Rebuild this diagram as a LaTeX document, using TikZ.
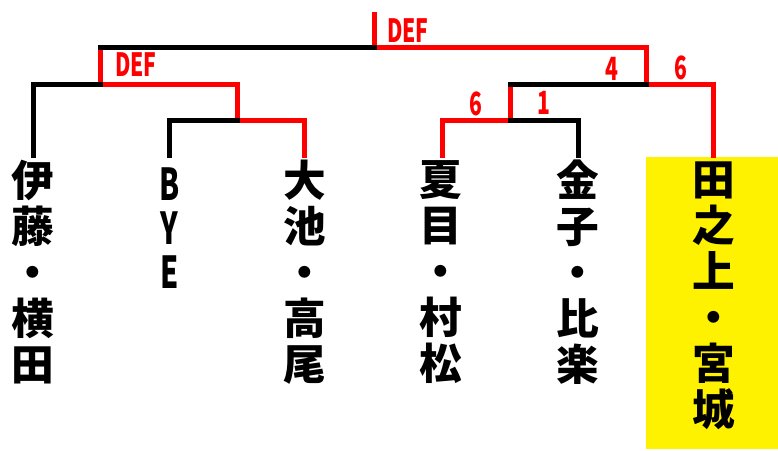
\documentclass[tikz,border=0pt]{standalone}
\usepackage{fontspec}
\usetikzlibrary{positioning}
\newfontfamily\jpfont{Noto Sans CJK JP}
\newfontfamily\narrowfont[FakeStretch=0.66]{Noto Sans CJK JP}

\begin{document}
\begin{tikzpicture}[x=0.75pt,y=-0.75pt,
                    line width=3.75pt,line cap=rect,line join=miter,
                    name node/.style={inner sep=0pt,align=center,font=\jpfont\bfseries\fontsize{32}{34.5}\selectfont},
                    bye node/.style={inner sep=0pt,align=center,font=\narrowfont\bfseries\fontsize{33}{33}\selectfont},
                    score node/.style={text=red,inner sep=0pt,font=\narrowfont\bfseries\fontsize{24}{24}\selectfont},
                    win/.style={draw=red},lose/.style={draw=black}
                   ]
  \useasboundingbox (0,0) rectangle (778,450);
  \fill[yellow] (646,157) rectangle (778,449);

  % tips of the bracket
  \coordinate (t1) at (33,155);
  \coordinate (t2) at (169.5,155);
  \coordinate (t3) at (304.5,155);
  \coordinate (t4) at (442,155);
  \coordinate (t5) at (578,155);
  \coordinate (t6) at (713,155);
  % joints
  \coordinate (m1) at (237,120.5);
  \coordinate (m2) at (510,120.5);
  \coordinate (s1) at (100,84.5);
  \coordinate (s2) at (646,84.5);
  \coordinate (f) at (374.5,47.5);
  \coordinate (champ) at (374.5,14);

  % players
  \node[name node] (ito) at (33,272.5) {伊\\藤\\・\\横\\田};
  \node[bye node] (bye) at (169.5,228) {B\\Y\\E};
  \node[name node] (oike) at (304.5,272.5) {大\\池\\・\\高\\尾};
  \node[name node] (natsume) at (441,272.5) {夏\\目\\・\\村\\松};
  \node[name node] (kaneko) at (578,272.5) {金\\子\\・\\比\\楽};
  \node[name node] (tanoue) at (714,296) {田\\之\\上\\・\\宮\\城};

  % winners
  \draw[win] (t3) |- (m1) |- (s1) -- (s1 |- f);
  \draw[win] (champ) -- (f) -| (s2) -| (t6);
  \draw[win] (t4) |- (m2) -- (m2 |- s2);
  % losers
  \draw[lose] (t1) |- (s1);
  \draw[lose] (t2) |- (m1);
  \draw[lose] (s1 |- f) -- (f);
  \draw[lose] (m2 |- s2) -- (s2);
  \draw[lose] (t5) |- (m2);

  % scores
  \node[score node] (def1) at (408,31) {DEF};
  \node[score node] (def2) at (136,65) {DEF};
  \node[score node] (sc4) at (612,68.5) {4};
  \node[score node] (sc6a) at (681,67.5) {6};
  \node[score node] (sc6b) at (476,104) {6};
  \node[score node] (sc1) at (544,103) {1};
\end{tikzpicture}
\end{document}
